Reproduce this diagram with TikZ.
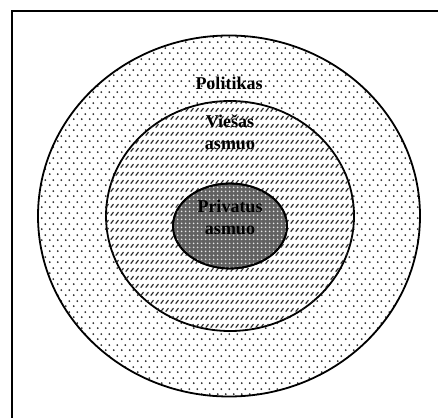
\documentclass[tikz,border=0pt]{standalone}
\usepackage{fontspec}
\setmainfont{Liberation Serif}
\usetikzlibrary{patterns,shapes.geometric}
\pgfdeclarepatternformonly{ringdots}{\pgfqpoint{0pt}{0pt}}{\pgfqpoint{8pt}{11pt}}{\pgfqpoint{8pt}{11pt}}{%
  \pgfpathcircle{\pgfqpoint{2pt}{2pt}}{1.1pt}%
  \pgfpathcircle{\pgfqpoint{6pt}{7.5pt}}{1.1pt}%
  \pgfusepath{fill}}
\pgfdeclarepatternformonly{ringhatch}{\pgfqpoint{0pt}{0pt}}{\pgfqpoint{5pt}{8pt}}{\pgfqpoint{5pt}{8pt}}{%
  \pgfsetlinewidth{1.3pt}%
  \pgfpathmoveto{\pgfqpoint{0.8pt}{1.5pt}}%
  \pgfpathlineto{\pgfqpoint{4.2pt}{5.5pt}}%
  \pgfusepath{stroke}}
\pgfdeclarepatternformonly{corewhite}{\pgfqpoint{0pt}{0pt}}{\pgfqpoint{4pt}{4pt}}{\pgfqpoint{4pt}{4pt}}{%
  \pgfpathcircle{\pgfqpoint{2pt}{2pt}}{1.2pt}%
  \pgfusepath{fill}}
\tikzset{
  ring/.style={draw=black, line width=1.8pt, ellipse, inner sep=0pt},
  lbl/.style={font=\fontsize{18}{22}\selectfont\bfseries, align=center, inner sep=0pt}
}
\begin{document}
\begin{tikzpicture}[x=1pt,y=-1pt]
\useasboundingbox (0,0) rectangle (438,417);
\fill[white] (0,0) rectangle (438,417);
\draw[line width=2pt] (12,11) rectangle (445,425);
\node[ring, minimum width=382pt, minimum height=361pt, pattern=ringdots, pattern color=black!85] (outer) at (229,216) {};
\node[ring, minimum width=248pt, minimum height=230pt, fill=white, postaction={pattern=ringhatch, pattern color=black!85}] (middle) at (230,216) {};
\node[ring, minimum width=114pt, minimum height=85pt, fill=black!62, postaction={pattern=corewhite, pattern color=white!90!black}] (inner) at (230,226) {};
\node[ring, minimum width=114pt, minimum height=85pt] (innerline) at (230,226) {};
\node[lbl] (pol) at (229,83) {Politikas};
\node[lbl] (vie) at (230,132) {Viešas\\asmuo};
\node[lbl] (pri) at (230,217) {Privatus\\asmuo};
\end{tikzpicture}
\end{document}
